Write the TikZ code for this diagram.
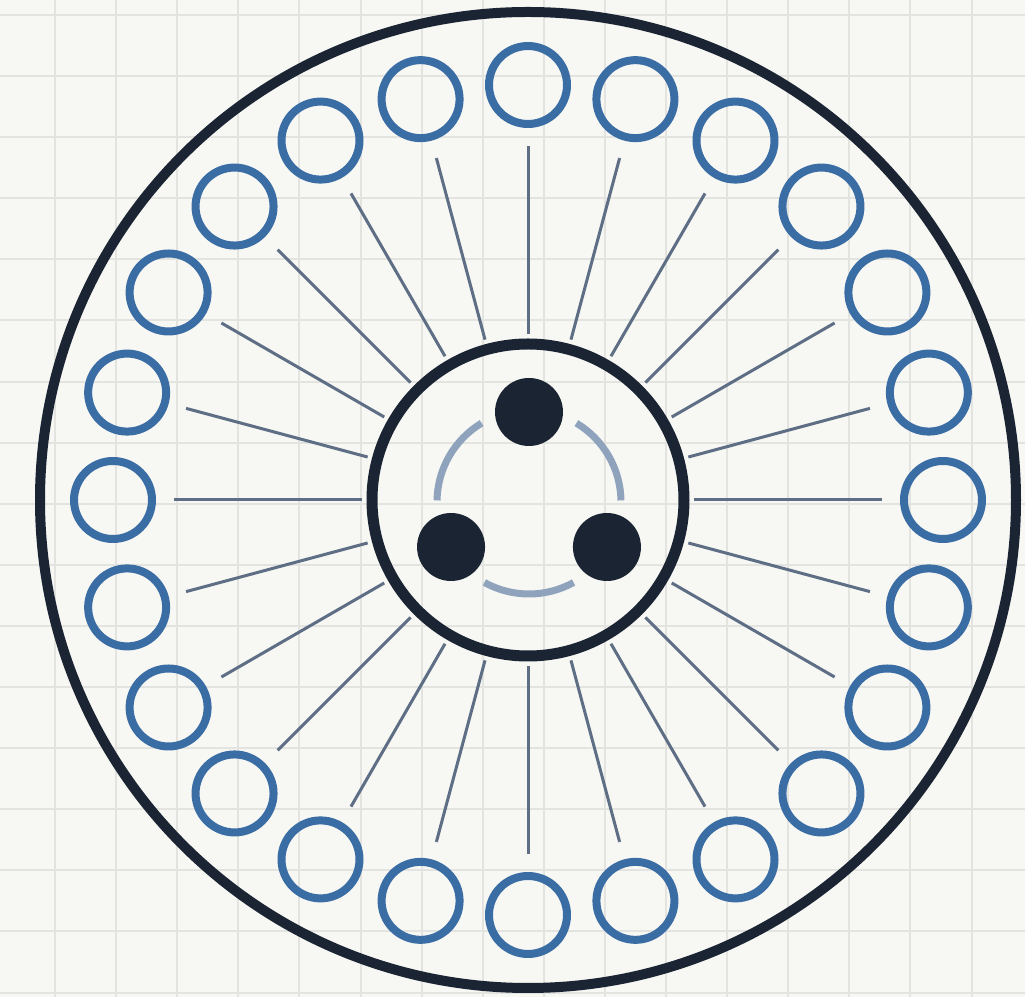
\documentclass[tikz,border=0pt]{standalone}
\definecolor{bgc}{HTML}{F7F7F3}
\definecolor{gridc}{HTML}{E3E3DF}
\definecolor{darkc}{HTML}{1B2433}
\definecolor{bluec}{HTML}{3B6DA5}
\definecolor{spokec}{HTML}{5E6E85}
\definecolor{arcc}{HTML}{8FA3BC}
\begin{document}
\begin{tikzpicture}[x=0.5pt,y=0.5pt,
  gridline/.style={draw=gridc,line width=1pt},
  outerring/.style={circle,draw=darkc,line width=5pt,inner sep=0pt,outer sep=0pt,minimum size=488pt},
  innerring/.style={circle,draw=darkc,fill=bgc,fill opacity=0,line width=5.5pt,inner sep=0pt,outer sep=0pt,minimum size=156pt},
  smallc/.style={circle,draw=bluec,line width=4pt,inner sep=0pt,outer sep=0pt,minimum size=39pt},
  dotc/.style={circle,fill=darkc,inner sep=0pt,outer sep=0pt,minimum size=34pt},
  spoke/.style={draw=spokec,line width=1.5pt,shorten <=5pt,shorten >=11pt},
  arcsty/.style={draw=arcc,line width=3.5pt}]
\fill[bgc] (0,0) rectangle (1025,997);
\useasboundingbox (0,0) rectangle (1025,997);
\foreach \k in {0,...,15} {
  \draw[gridline] ({55+61.1*\k},0) -- ({55+61.1*\k},997);
}
\foreach \k in {0,...,16} {
  \draw[gridline] (0,{982-61.1*\k}) -- (1025,{982-61.1*\k});
}
\coordinate (ctr) at (528,497);
\node[outerring] (outer) at (ctr) {};
\node[innerring] (inner) at (ctr) {};
\foreach \i in {0,...,23} {
  \node[smallc] (c\i) at ([shift={({\i*15}:415)}]ctr) {};
  \draw[spoke] (inner) -- (c\i);
}
\coordinate (hub) at (529,495);
\node[dotc] (d1) at ([shift={(90:90)}]hub) {};
\node[dotc] (d2) at ([shift={(210:90)}]hub) {};
\node[dotc] (d3) at ([shift={(330:90)}]hub) {};
\draw[arcsty] ([shift={(1:92)}]hub) arc[start angle=1, end angle=59, radius=92];
\draw[arcsty] ([shift={(121:92)}]hub) arc[start angle=121, end angle=179, radius=92];
\draw[arcsty] ([shift={(241:92)}]hub) arc[start angle=241, end angle=299, radius=92];
\end{tikzpicture}
\end{document}
